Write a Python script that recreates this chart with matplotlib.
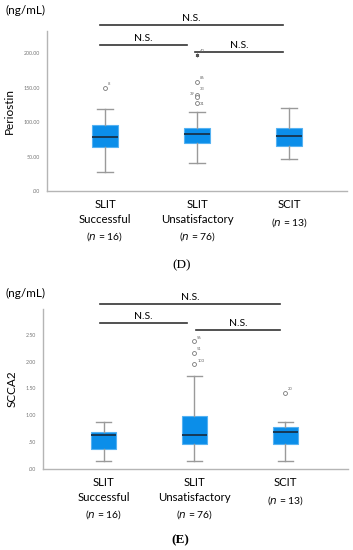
import matplotlib.pyplot as plt

plt.rcParams['font.family'] = ['Lato', 'DejaVu Sans']

groups = ["SLIT\nSuccessful", "SLIT\nUnsatisfactory", "SCIT"]
group_n = [16, 76, 13]

# Periostin box stats: whislo, q1, med, q3, whishi
periostin_stats = [
    [27, 64, 78, 96, 119],
    [40, 69, 82, 91, 115],
    [47, 65, 80, 91, 120],
]
periostin_out = [[149], [158, 139, 136, 127], []]
periostin_out_lbl = [["8"], ["86", "33", "39", "31"], []]
periostin_extreme = [[], [197], []]
periostin_extreme_lbl = [[], ["40"], []]
periostin_ticks = [0, 50, 100, 150, 200]
periostin_ticklabels = [".00", "50.00", "100.00", "150.00", "200.00"]

# SCCA2 box stats
scca2_stats = [
    [0.15, 0.37, 0.63, 0.68, 0.88],
    [0.15, 0.47, 0.63, 0.995, 1.735],
    [0.15, 0.47, 0.68, 0.78, 0.88],
]
scca2_out = [[], [2.375, 2.16, 1.95], [1.42]]
scca2_out_lbl = [[], ["56", "51", "103"], ["20"]]
scca2_extreme = [[], [], []]
scca2_extreme_lbl = [[], [], []]
scca2_ticks = [0, 0.5, 1.0, 1.5, 2.0, 2.5]
scca2_ticklabels = [".00", ".50", "1.00", "1.50", "2.00", "2.50"]

# significance brackets: (x0, x1, y)
periostin_sig = [(0.95, 2.93, 240), (0.95, 1.89, 212), (1.98, 2.93, 202)]
scca2_sig = [(0.96, 2.94, 3.07), (0.96, 1.92, 2.72), (2.02, 2.94, 2.58)]

# label offsets (points) for crowded outlier ids
label_offsets = {"33": (2, 3.5), "39": (-2, 1.5), "31": (2, -1)}

W, H = 353, 550
fig = plt.figure(figsize=(W / 100, H / 100), dpi=100)


def px_axes(left, top, right, bottom):
    return fig.add_axes([left / W, 1 - bottom / H, (right - left) / W, (bottom - top) / H])


def put_label(ax, lb, x, y):
    dx, dy = label_offsets.get(lb, (2, 2))
    ax.annotate(lb, (x, y), xytext=(dx, dy), textcoords='offset points',
                ha='right' if dx < 0 else 'left', fontsize=3, color='#666666')


def draw_panel(ax, stats, out, out_lbl, ext, ext_lbl, ticks, ticklabels, ylim, xlim,
               sig, ylabel):
    bxpstats = []
    for s in stats:
        bxpstats.append(dict(whislo=s[0], q1=s[1], med=s[2], q3=s[3], whishi=s[4], fliers=[]))
    ax.bxp(bxpstats, positions=[1, 2, 3], widths=0.28, capwidths=0.17, patch_artist=True,
           showfliers=False,
           boxprops=dict(facecolor='#0b8ee9', edgecolor='#55b2f2', linewidth=0.8),
           medianprops=dict(color='#173955', linewidth=1.4),
           whiskerprops=dict(color='#9a9a9a', linewidth=1.0),
           capprops=dict(color='#9a9a9a', linewidth=1.0))
    for i in range(3):
        for v, lb in zip(out[i], out_lbl[i]):
            ax.plot(i + 1, v, 'o', ms=2.8, mfc='white', mec='#777777', mew=0.6, clip_on=False)
            put_label(ax, lb, i + 1, v)
        for v, lb in zip(ext[i], ext_lbl[i]):
            ax.plot(i + 1, v, marker=(6, 2, 0), ms=2.5, mec='#555555', mew=0.6, clip_on=False)
            put_label(ax, lb, i + 1, v)

    ax.set_ylim(*ylim)
    ax.set_xlim(*xlim)
    ax.set_yticks(ticks)
    ax.set_yticklabels(ticklabels, fontsize=3.8, color='#777777')
    ax.tick_params(axis='y', length=0, pad=5)
    ax.set_xticks([])
    for sp in ['top', 'right']:
        ax.spines[sp].set_visible(False)
    for sp in ['left', 'bottom']:
        ax.spines[sp].set_color('#b5b5b5')
        ax.spines[sp].set_linewidth(1.0)
    ax.set_ylabel(ylabel, fontsize=8.5, labelpad=6)

    for x0, x1, y in sig:
        ax.plot([x0, x1], [y, y], color='#333333', lw=1.2, clip_on=False)
        ax.annotate("N.S.", ((x0 + x1) / 2, y), xytext=(0, 1.5), textcoords='offset points',
                    ha='center', va='bottom', fontsize=7.5, annotation_clip=False)

    for i in range(3):
        lines = groups[i].split("\n")
        off = -10
        for ln in lines:
            ax.annotate(ln, (i + 1, 0), xycoords=('data', 'axes fraction'), xytext=(0, off),
                        textcoords='offset points', ha='center', va='center', fontsize=8.2)
            off -= 10.5
        off -= 2
        ax.annotate("($\\it{n}$ = %d)" % group_n[i], (i + 1, 0), xycoords=('data', 'axes fraction'),
                    xytext=(0, off), textcoords='offset points', ha='center', va='center',
                    fontsize=7.5)
    return ax


axD = px_axes(47, 31, 347, 191)
draw_panel(axD, periostin_stats, periostin_out, periostin_out_lbl, periostin_extreme,
           periostin_extreme_lbl, periostin_ticks, periostin_ticklabels, (0, 232),
           (0.37, 3.63), periostin_sig, "Periostin")
fig.text(25 / W, 1 - 10 / H, "(ng/mL)", ha='center', va='center', fontsize=8.5)
fig.text(182 / W, 1 - 265 / H, "(D)", ha='center', va='center', fontsize=9.5,
         family='Liberation Serif')

axE = px_axes(43, 309, 348, 469)
draw_panel(axE, scca2_stats, scca2_out, scca2_out_lbl, scca2_extreme, scca2_extreme_lbl,
           scca2_ticks, scca2_ticklabels, (0, 2.98), (0.333, 3.69), scca2_sig, "SCCA2")
fig.text(25 / W, 1 - 293 / H, "(ng/mL)", ha='center', va='center', fontsize=8.5)
fig.text(180 / W, 1 - 540 / H, "(E)", ha='center', va='center', fontsize=9.5,
         family='Liberation Serif', weight='bold')

fig.savefig("out.png", dpi=100)
